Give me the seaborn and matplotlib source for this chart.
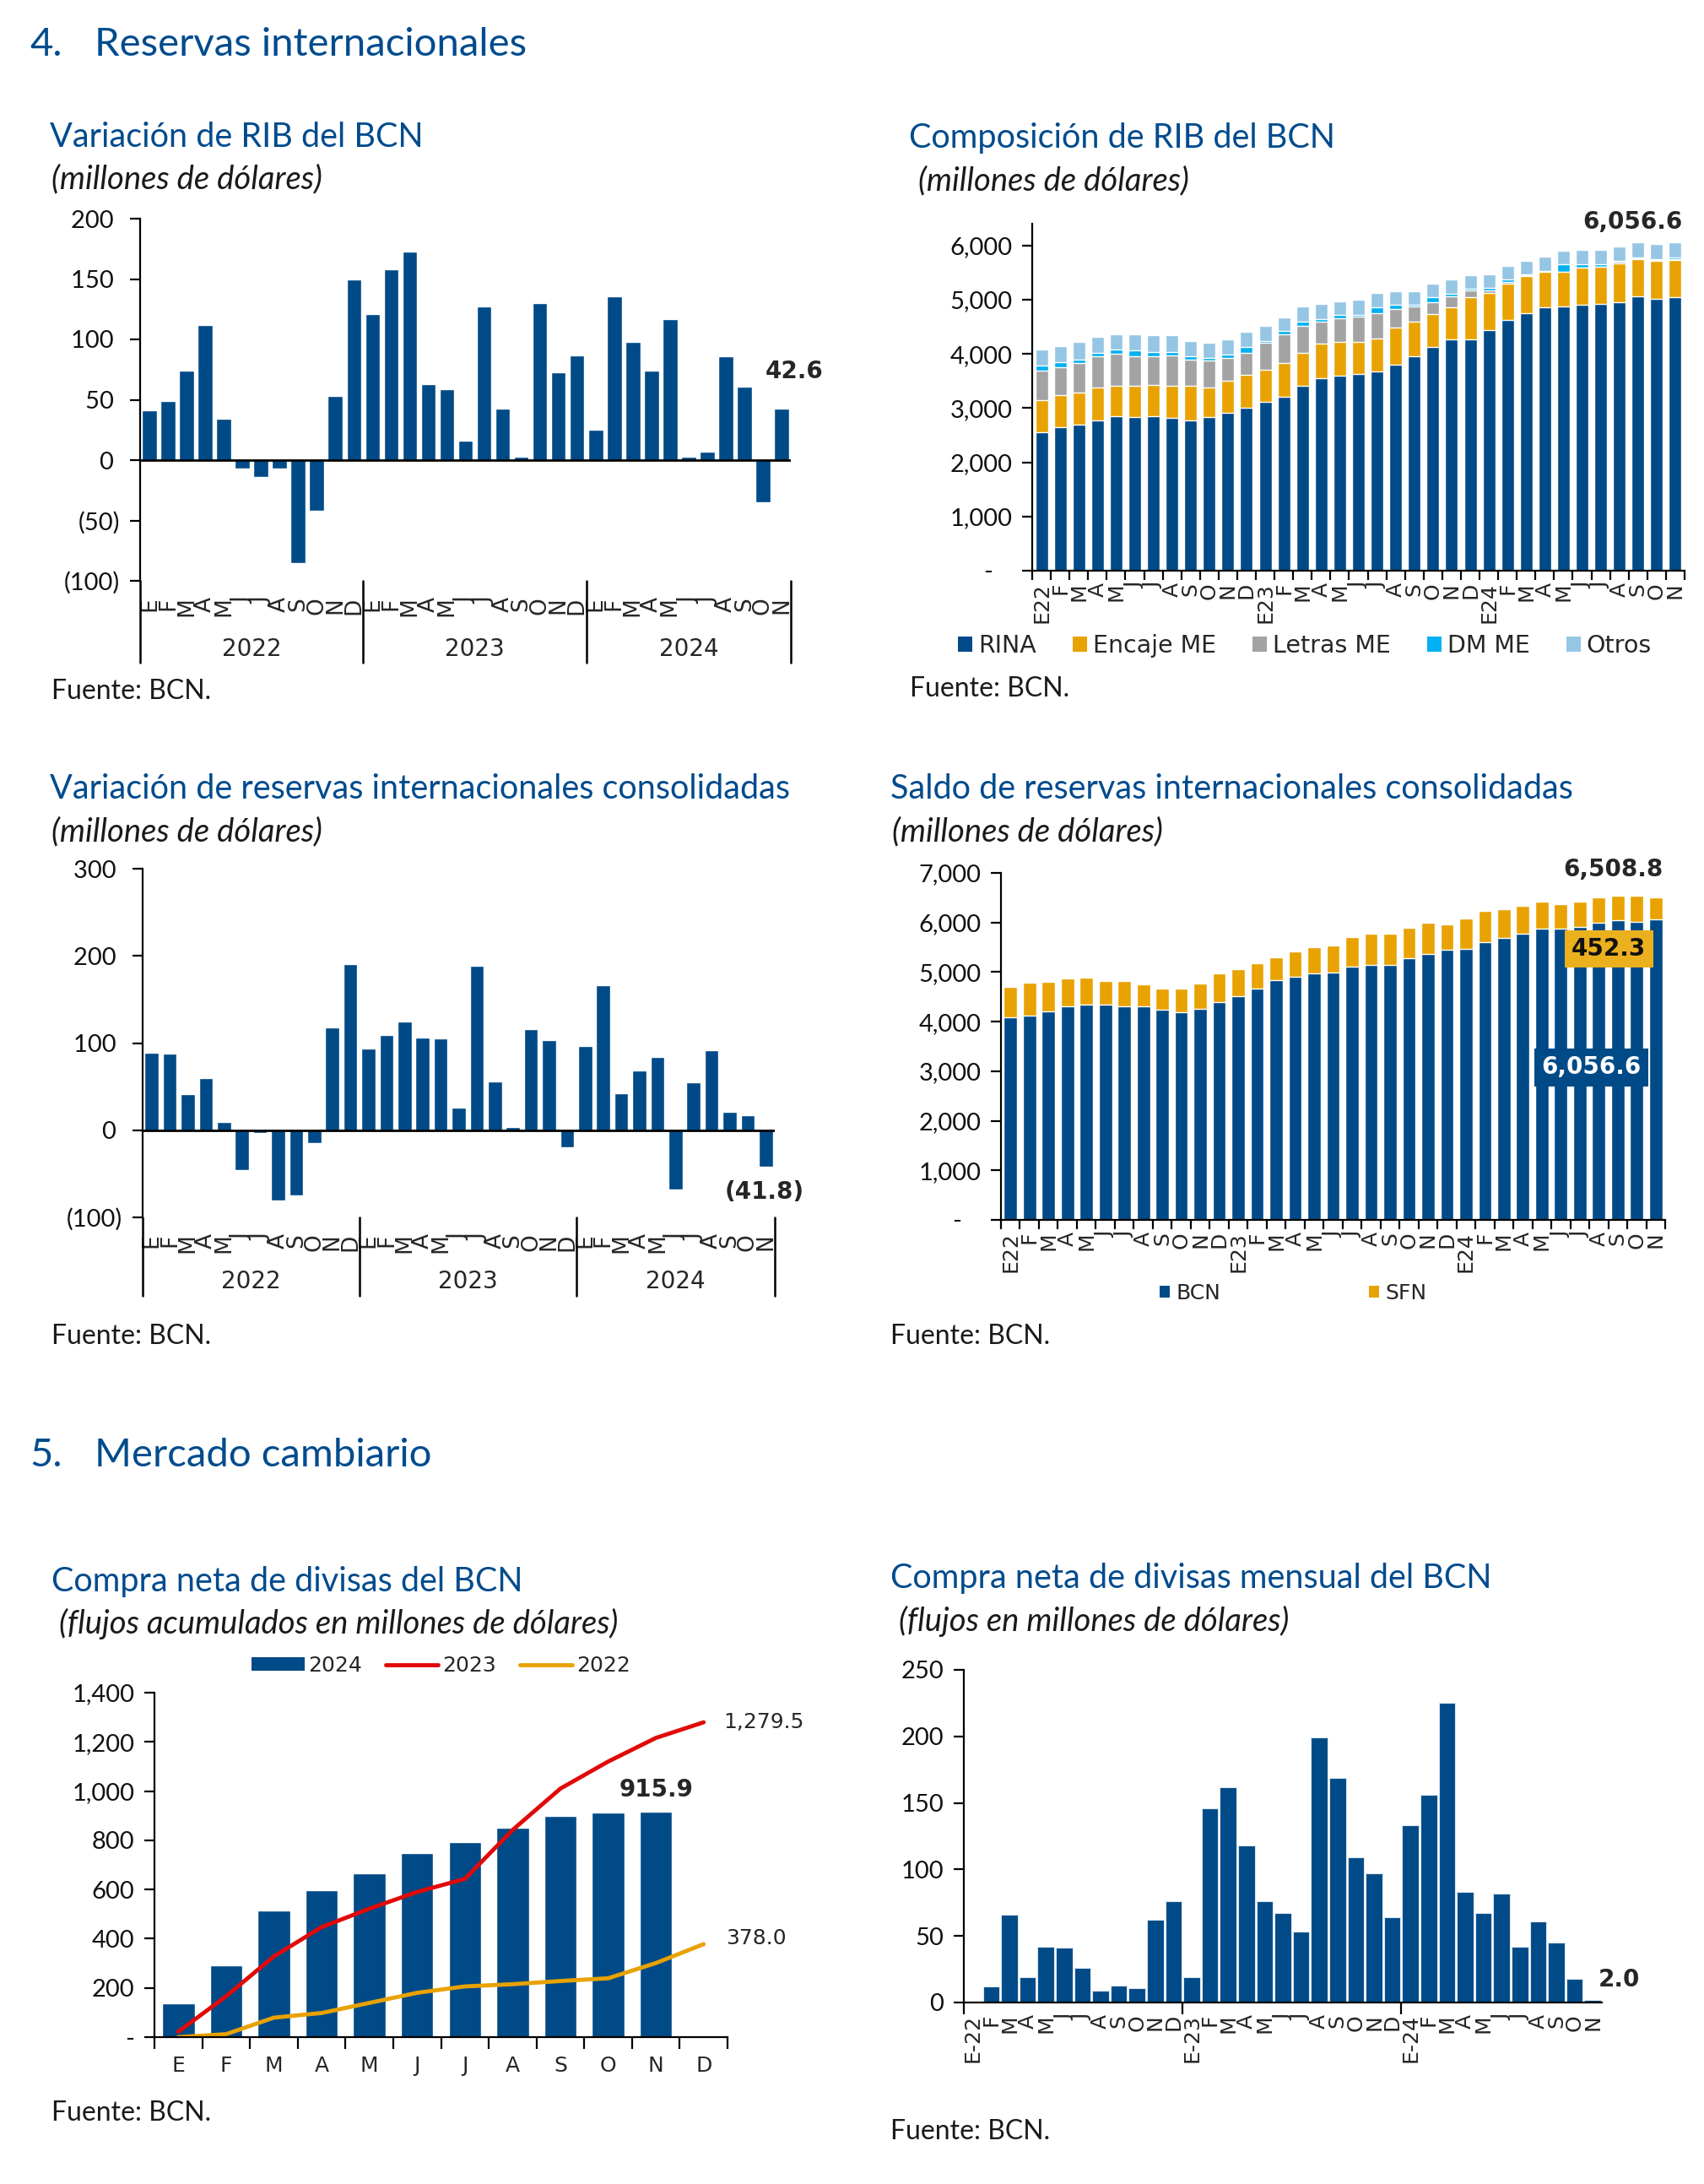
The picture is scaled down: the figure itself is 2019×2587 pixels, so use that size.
import numpy as np
import pandas as pd
import seaborn as sns
import matplotlib.pyplot as plt
from matplotlib.patches import Patch
from matplotlib.lines import Line2D

# ---------------- datos ----------------
meses = ['E', 'F', 'M', 'A', 'M', 'J', 'J', 'A', 'S', 'O', 'N', 'D']
meses_35 = meses * 2 + meses[:11]
meses_rib = ['E22'] + meses[1:] + ['E23'] + meses[1:] + ['E24'] + meses[1:11]
meses_div = ['E-22'] + meses[1:] + ['E-23'] + meses[1:] + ['E-24'] + meses[1:11]
anios = ['2022', '2023', '2024']

# variacion de RIB del BCN (millones de dolares)
var_rib = [41, 49, 74, 112, 34, -7, -14, -7, -85, -42, 53, 150,
           121, 158, 173, 63, 59, 16, 127, 43, 3, 130, 73, 87,
           25, 136, 98, 74, 117, 3, 7, 86, 61, -35, 42.6]

# composicion de RIB del BCN
rina = [2550, 2650, 2700, 2770, 2850, 2830, 2850, 2815, 2775, 2830, 2910, 3010,
        3110, 3205, 3410, 3550, 3600, 3625, 3670, 3800, 3950, 4125, 4265, 4265,
        4440, 4620, 4755, 4860, 4875, 4900, 4915, 4955, 5060, 5015, 5050]
encaje = [600, 590, 580, 610, 560, 580, 580, 595, 635, 550, 600, 595,
          600, 625, 610, 635, 620, 600, 610, 680, 650, 615, 600, 775,
          685, 680, 685, 655, 640, 685, 690, 720, 680, 700, 675]
letras = [540, 520, 545, 580, 595, 540, 530, 555, 490, 490, 420, 415,
          490, 530, 500, 415, 440, 460, 475, 345, 280, 210, 195, 135,
          50, 30, 10, 5, 5, 5, 5, 20, 15, 15, 15]
dm_me = [100, 85, 75, 55, 70, 120, 70, 70, 55, 55, 55, 105,
         40, 65, 70, 35, 55, 35, 105, 85, 30, 90, 45, 30,
         40, 35, 10, 10, 125, 55, 35, 25, 15, 15, 35]
otros = [290, 295, 320, 300, 285, 290, 310, 305, 280, 275, 280, 275,
         275, 250, 280, 280, 260, 275, 260, 245, 245, 250, 265, 250,
         255, 260, 260, 260, 250, 265, 265, 265, 280, 285, 281.6]

# variacion de reservas internacionales consolidadas
var_ric = [89, 88, 41, 60, 9, -46, -3, -81, -75, -15, 118, 191,
           94, 109, 125, 106, 105, 26, 189, 56, 4, 116, 103, -20,
           97, 166, 42, 69, 84, -68, 55, 92, 21, 17, -41.8]

# saldo de reservas internacionales consolidadas
saldo_bcn = [4087, 4126, 4213, 4315, 4346, 4346, 4315, 4315, 4244, 4189, 4260, 4402,
             4520, 4669, 4843, 4906, 4969, 4992, 5102, 5142, 5142, 5276, 5362, 5449,
             5465, 5606, 5693, 5780, 5882, 5882, 5906, 5992, 6039, 6016, 6056.6]
saldo_sfn = [606, 654, 582, 551, 536, 481, 512, 441, 425, 480, 512, 574,
             535, 504, 456, 503, 527, 543, 607, 630, 630, 614, 630, 520,
             614, 622, 583, 551, 535, 480, 511, 520, 496, 519, 452.2]

# compra neta de divisas acumulada
acum_2024 = [137, 292, 515, 597, 664, 749, 792, 852, 898, 913, 915.9]
acum_2023 = [22, 166, 328, 447, 522, 590, 643, 842, 1010, 1120, 1216, 1279.5]
acum_2022 = [0, 12, 79, 98, 139, 180, 206, 215, 228, 239, 301, 378.0]

# compra neta de divisas mensual
compra_mes = [0, 12, 66, 19, 42, 41, 26, 9, 13, 11, 62, 76,
              19, 146, 162, 118, 76, 67, 53, 199, 169, 109, 97, 64,
              133, 156, 225, 83, 67, 82, 42, 61, 45, 18, 2.0]

# ---------------- estilo ----------------
AZUL = '#004A87'
ORO = '#E8A202'
GRIS = '#A3A3A3'
CIAN = '#00B0F0'
CELESTE = '#95C6E4'
ROJO = '#E10A0A'
TITULO = '#004B8D'

FUT = ['Lato', 'DejaVu Sans']
VER = ['DejaVu Sans']
TICK = 21
MES = 18
BOLD = 20

sns.set_theme(style='white')
plt.rcParams['font.family'] = FUT

W, H = 2019, 2587
fig = plt.figure(figsize=(W / 100, H / 100), dpi=100)


def caja(x0, y0, x1, y1):
    return fig.add_axes([x0 / W, 1 - y1 / H, (x1 - x0) / W, (y1 - y0) / H])


def texto(x, y, s, **kw):
    fig.text(x / W, 1 - y / H, s, va='center', ha='left', **kw)


def encabezado(x, y, titulo, sub, xs=None):
    texto(x, y, titulo, fontsize=28.5, color=TITULO)
    texto(xs or x + 2, y + 50, sub, fontsize=27.5, style='italic', color='#1A1A1A')


def fuente(x, y):
    texto(x, y, 'Fuente: BCN.', fontsize=23, color='#1A1A1A')


def ejes(ax, ylim, yticks, ylabels):
    ax.set_ylim(*ylim)
    ax.set_yticks(yticks)
    ax.set_yticklabels(ylabels, fontsize=TICK)
    for s in ['top', 'right', 'bottom']:
        ax.spines[s].set_visible(False)
    ax.spines['left'].set_color('black')
    ax.spines['left'].set_linewidth(1.6)
    ax.tick_params(axis='y', left=True, direction='out', length=9, width=1.6,
                   color='black', pad=8, labelcolor='#111111')
    ax.set_xlabel('')
    ax.set_ylabel('')


def eje_x(ax):
    ax.spines['bottom'].set_visible(True)
    ax.spines['bottom'].set_color('black')
    ax.spines['bottom'].set_linewidth(1.6)


def meses_abajo(ax, labels, fontsize=MES, pad=12):
    ax.set_xticks(range(len(labels)))
    ax.set_xticklabels(labels, rotation=90, fontsize=fontsize, fontfamily=VER)
    ax.tick_params(axis='x', bottom=False, length=0, pad=pad)


def limites_mes(ax, pos, length=9):
    ax.set_xticks(pos, minor=True)
    ax.tick_params(axis='x', which='minor', bottom=True, direction='out',
                   length=length, width=1.6, color='black')


def anios_abajo(ax, y_sep, y_txt):
    tr = ax.get_xaxis_transform()
    for x in [-0.5, 11.5, 23.5, 34.5]:
        ax.plot([x, x], [0, y_sep], transform=tr, color='black', lw=1.8, clip_on=False)
    for x, a in zip([5.5, 17.5, 29], anios):
        ax.text(x, y_txt, a, transform=tr, ha='center', va='center',
                fontsize=20, fontfamily=VER)


# ---------------- titulos de seccion ----------------
texto(35, 53, '4.', fontsize=34, color=TITULO)
texto(112, 53, 'Reservas internacionales', fontsize=34, color=TITULO)
texto(35, 1724, '5.', fontsize=34, color=TITULO)
texto(112, 1724, 'Mercado cambiario', fontsize=34, color=TITULO)

# ---------------- 1. variacion de RIB ----------------
encabezado(59, 162, 'Variación de RIB del BCN', '(millones de dólares)')
ax1 = caja(166, 259, 937, 688)
sns.barplot(x=np.arange(35), y=var_rib, color=AZUL, width=0.8, saturation=1, ax=ax1)
ejes(ax1, (-100, 200), [-100, -50, 0, 50, 100, 150, 200],
     ['(100)', '(50)', '0 ', '50 ', '100 ', '150 ', '200 '])
ax1.set_xlim(-0.5, 34.5)
ax1.axhline(0, color='black', lw=2)
meses_abajo(ax1, meses_35, fontsize=19, pad=14)
anios_abajo(ax1, -0.226, -0.189)
ax1.annotate(f'{var_rib[-1]:.1f}', xy=(34, var_rib[-1]), xytext=(11, 32),
             textcoords='offset points', ha='center', va='center',
             fontsize=BOLD, fontweight='bold', fontfamily=VER)
fuente(61, 819)

# ---------------- 2. composicion de RIB ----------------
encabezado(1077, 164, 'Composición de RIB del BCN', '(millones de dólares)', xs=1088)
ax2 = caja(1223, 265, 1996, 676)
comp = pd.DataFrame({'RINA': rina, 'Encaje ME': encaje, 'Letras ME': letras,
                     'DM ME': dm_me, 'Otros': otros})
colores = [AZUL, ORO, GRIS, CIAN, CELESTE]
acum = comp.cumsum(axis=1)
for col, c in reversed(list(zip(comp.columns, colores))):
    sns.barplot(x=np.arange(35), y=acum[col].values, color=c, width=0.68,
                saturation=1, ax=ax2)
ejes(ax2, (0, 6400), range(0, 7000, 1000),
     ['-   '] + [f'{v:,}' for v in range(1000, 7000, 1000)])
ax2.set_xlim(-0.5, 34.5)
eje_x(ax2)
meses_abajo(ax2, meses_rib, pad=10)
limites_mes(ax2, np.arange(36) - 0.5, length=8)
ax2.annotate(f'{acum["Otros"].iloc[-1]:,.1f}', xy=(34, acum['Otros'].iloc[-1]),
             xytext=(6, 17), textcoords='offset points', ha='right', va='center',
             fontsize=BOLD, fontweight='bold', fontfamily=VER)
h2 = [Patch(facecolor=c, edgecolor='none') for c in colores]
ax2.legend(h2, comp.columns, loc='center', bbox_to_anchor=(0.418, -0.217), ncol=5,
           frameon=False, prop={'family': VER, 'size': 20.5}, handlelength=0.6,
           handleheight=0.6, handletextpad=0.25, columnspacing=1.5)
fuente(1078, 816)

# ---------------- 3. variacion de reservas consolidadas ----------------
encabezado(59, 935, 'Variación de reservas internacionales consolidadas', '(millones de dólares)')
ax3 = caja(169, 1029, 918, 1442)
sns.barplot(x=np.arange(35), y=var_ric, color=AZUL, width=0.78, saturation=1, ax=ax3)
ejes(ax3, (-100, 300), [-100, 0, 100, 200, 300], ['(100)', '0 ', '100 ', '200 ', '300 '])
ax3.set_xlim(-0.5, 34.5)
ax3.axhline(0, color='black', lw=2)
meses_abajo(ax3, meses_35, fontsize=19, pad=14)
anios_abajo(ax3, -0.225, -0.185)
ax3.annotate(f'({abs(var_ric[-1]):.1f})', xy=(34, var_ric[-1]), xytext=(-1, -22),
             textcoords='offset points', ha='center', va='center',
             fontsize=BOLD, fontweight='bold', fontfamily=VER)
fuente(61, 1583)

# ---------------- 4. saldo de reservas consolidadas ----------------
encabezado(1055, 935, 'Saldo de reservas internacionales consolidadas', '(millones de dólares)')
ax4 = caja(1186, 1034, 1973, 1445)
total4 = np.array(saldo_bcn) + np.array(saldo_sfn)
sns.barplot(x=np.arange(35), y=total4, color=ORO, width=0.7, saturation=1, ax=ax4)
sns.barplot(x=np.arange(35), y=saldo_bcn, color=AZUL, width=0.7, saturation=1, ax=ax4)
ejes(ax4, (0, 7000), range(0, 8000, 1000),
     ['-   '] + [f'{v:,}' for v in range(1000, 8000, 1000)])
ax4.set_xlim(-0.5, 34.5)
eje_x(ax4)
meses_abajo(ax4, meses_rib, pad=10)
limites_mes(ax4, np.arange(36) - 0.5, length=8)
ax4.annotate('6,508.8', xy=(34, total4[-1]), xytext=(6, 24),
             textcoords='offset points', ha='right', va='center',
             fontsize=BOLD, fontweight='bold', fontfamily=VER)
ax4.annotate('452.3', xy=(34, total4[-1]), xytext=(-40, -44),
             textcoords='offset points', ha='center', va='center',
             fontsize=BOLD, fontweight='bold', fontfamily=VER, color='#111111',
             bbox=dict(boxstyle='square,pad=0.3', facecolor='#EBB01E', edgecolor='none'))
ax4.annotate(f'{saldo_bcn[-1]:,.1f}', xy=(34, saldo_bcn[-1]), xytext=(-55, -126),
             textcoords='offset points', ha='center', va='center',
             fontsize=BOLD, fontweight='bold', fontfamily=VER, color='white',
             bbox=dict(boxstyle='square,pad=0.3', facecolor=AZUL, edgecolor='none'))
h4 = [Patch(facecolor=AZUL, edgecolor='none'), Patch(facecolor=ORO, edgecolor='none')]
ax4.legend(h4, ['BCN', 'SFN'], loc='center', bbox_to_anchor=(0.44, -0.212), ncol=2,
           frameon=False, prop={'family': VER, 'size': 18}, handlelength=0.5,
           handleheight=0.5, handletextpad=0.3, columnspacing=7)
fuente(1055, 1583)

# ---------------- 5. compra neta acumulada ----------------
encabezado(61, 1873, 'Compra neta de divisas del BCN',
           '(flujos acumulados en millones de dólares)', xs=70)
ax5 = caja(183, 2005, 862, 2413)
sns.barplot(x=np.arange(len(acum_2024)), y=acum_2024, color=AZUL, width=0.68,
            saturation=1, ax=ax5)
sns.lineplot(x=np.arange(12), y=acum_2023, color=ROJO, lw=3.5, ax=ax5)
sns.lineplot(x=np.arange(12), y=acum_2022, color=ORO, lw=3.5, ax=ax5)
ejes(ax5, (0, 1400), range(0, 1600, 200),
     ['-'] + [f'{v:,}' for v in range(200, 1600, 200)])
ax5.set_xlim(-0.5, 11.5)
eje_x(ax5)
ax5.set_xticks(range(12))
ax5.set_xticklabels(meses, fontsize=MES, fontfamily=VER)
ax5.tick_params(axis='x', bottom=False, length=0, pad=16)
limites_mes(ax5, np.arange(13) - 0.5, length=10)
ax5.annotate(f'{acum_2024[-1]:.1f}', xy=(10, acum_2024[-1]), xytext=(0, 19),
             textcoords='offset points', ha='center', va='center',
             fontsize=BOLD, fontweight='bold', fontfamily=VER)
ax5.annotate(f'{acum_2023[-1]:,.1f}', xy=(11, acum_2023[-1]), xytext=(17, 0),
             textcoords='offset points', ha='left', va='center',
             fontsize=18, fontfamily=VER)
ax5.annotate(f'{acum_2022[-1]:.1f}', xy=(11, acum_2022[-1]), xytext=(19, 5),
             textcoords='offset points', ha='left', va='center',
             fontsize=18, fontfamily=VER)
h5 = [Patch(facecolor=AZUL, edgecolor='none'),
      Line2D([], [], color=ROJO, lw=3.5), Line2D([], [], color=ORO, lw=3.5)]
ax5.legend(h5, ['2024', '2023', '2022'], loc='center', bbox_to_anchor=(0.5, 1.078),
           ncol=3, frameon=False, prop={'family': VER, 'size': 18},
           handlelength=2.5, handleheight=0.6, handletextpad=0.2, columnspacing=1.1)
fuente(61, 2503)

# ---------------- 6. compra neta mensual ----------------
encabezado(1055, 1870, 'Compra neta de divisas mensual del BCN',
           '(flujos en millones de dólares)', xs=1065)
ax6 = caja(1142, 1978, 1898, 2372)
sns.barplot(x=np.arange(35), y=compra_mes, color=AZUL, width=0.9, saturation=1,
            edgecolor='#DCE6F0', linewidth=0.8, ax=ax6)
ejes(ax6, (0, 250), range(0, 300, 50), [str(v) for v in range(0, 300, 50)])
ax6.set_xlim(-0.5, 34.5)
eje_x(ax6)
meses_abajo(ax6, meses_div, pad=10)
limites_mes(ax6, [-0.5, 11.5, 23.5], length=10)
ax6.annotate(f'{compra_mes[-1]:.1f}', xy=(34, compra_mes[-1]), xytext=(5, 17),
             textcoords='offset points', ha='left', va='center',
             fontsize=BOLD, fontweight='bold', fontfamily=VER)
fuente(1055, 2525)

fig.savefig('out.png', dpi=100, facecolor='white')
